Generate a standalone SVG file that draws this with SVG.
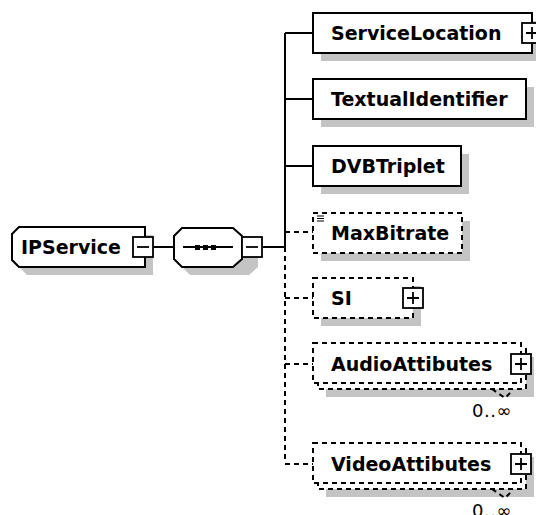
<svg xmlns="http://www.w3.org/2000/svg" width="536" height="515" viewBox="0 0 536 515">
<style>
.box{fill:#fff;stroke:#000;stroke-width:2}
.opt{stroke-dasharray:5 4}
.sh{fill:#c4c4c4}
.t{font-family:"DejaVu Sans",Verdana,sans-serif;font-weight:bold;font-size:19px;fill:#000}
.c{fill:none;stroke:#000;stroke-width:2}
.d{stroke-dasharray:5 4}
.pm{fill:#fff;stroke:#000;stroke-width:1.8}
.sym{fill:none;stroke:#000;stroke-width:1.8}
.m{font-family:"DejaVu Sans",sans-serif;font-size:18px;fill:#000}
</style>
<defs>
<g id="plus"><rect class="pm" x="0" y="0" width="20" height="20"/><path class="sym" d="M4,10H16M10,4V16"/></g>
<g id="minus"><rect class="pm" x="0" y="0" width="20" height="20"/><path class="sym" d="M4,10H16"/></g>
</defs>

<g id="connectors">
<path class="c" d="M152,247H174"/>
<path class="c" d="M262,247H285"/>
<path class="c" d="M285,33V247"/>
<path class="c d" d="M285,247V463"/>
<path class="c" d="M285,33H313M285,99H313M285,166H313"/>
<path class="c d" d="M285,232H313M285,298H313M285,364H313M285,464H313"/>
</g>

<g id="IPService">
<path class="sh" d="M27,235H153V275H27L20,268V242Z"/>
<path class="box" d="M19,227H145V267H19L12,260V234Z"/>
<text class="t" x="21" y="254">IPService</text>
<use href="#minus" x="133" y="237"/>
</g>

<g id="sequence">
<path class="sh" d="M190,236H249L258,244V267L249,275H190L182,267V244Z"/>
<path class="box" d="M182,228H233L242,236V259L233,267H182L174,259V236Z"/>
<path class="c" d="M183,247H233"/>
<rect x="195" y="245" width="5" height="5"/>
<rect x="203" y="245" width="5" height="5"/>
<rect x="211" y="245" width="5" height="5"/>
<use href="#minus" x="242" y="237"/>
</g>

<g id="ServiceLocation">
<rect class="sh" x="321" y="21" width="219" height="40"/>
<rect class="box" x="313" y="13" width="219" height="40"/>
<text class="t" x="331" y="40">ServiceLocation</text>
<use href="#plus" x="522" y="23"/>
</g>

<g id="TextualIdentifier">
<rect class="sh" x="321" y="87" width="213" height="40"/>
<rect class="box" x="313" y="79" width="213" height="40"/>
<text class="t" x="331" y="106">TextualIdentifier</text>
</g>

<g id="DVBTriplet">
<rect class="sh" x="321" y="154" width="148" height="40"/>
<rect class="box" x="313" y="146" width="148" height="40"/>
<text class="t" x="331" y="173">DVBTriplet</text>
</g>

<g id="MaxBitrate">
<rect class="sh" x="321" y="221" width="149" height="40"/>
<rect class="box opt" x="313" y="213" width="149" height="40"/>
<path d="M317,216H324M317,218.5H324M317,221H324" fill="none" stroke="#000" stroke-width="1"/>
<text class="t" x="331" y="240">MaxBitrate</text>
</g>

<g id="SI">
<rect class="sh" x="321" y="286" width="100" height="40"/>
<rect class="box opt" x="313" y="278" width="100" height="40"/>
<text class="t" x="331" y="305">SI</text>
<use href="#plus" x="403" y="288"/>
</g>

<g id="AudioAttibutes">
<rect class="sh" x="326" y="357" width="208" height="40"/>
<rect class="box opt" x="318" y="349" width="208" height="40"/>
<path class="c d" d="M492,389L505,398L513,390"/>
<rect class="box opt" x="313" y="343" width="208" height="40"/>
<text class="t" x="331" y="371">AudioAttibutes</text>
<use href="#plus" x="511" y="354"/>
<text class="m" x="472" y="417" letter-spacing="0.5">0..∞</text>
</g>

<g id="VideoAttibutes">
<rect class="sh" x="326" y="457" width="208" height="40"/>
<rect class="box opt" x="318" y="449" width="208" height="40"/>
<path class="c d" d="M492,489L505,498L513,490"/>
<rect class="box opt" x="313" y="443" width="208" height="40"/>
<text class="t" x="331" y="471">VideoAttibutes</text>
<use href="#plus" x="511" y="454"/>
<text class="m" x="472" y="517" letter-spacing="0.5">0..∞</text>
</g>
</svg>
